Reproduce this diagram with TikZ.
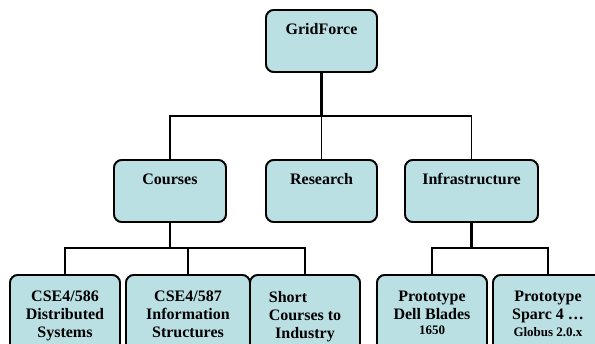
\documentclass[tikz,border=0pt]{standalone}
\usepackage{fontspec}
\setmainfont{Liberation Serif}
\definecolor{boxfill}{RGB}{187,224,228}
\begin{document}
\begin{tikzpicture}[x=1pt, y=-1pt,
  box/.style={draw=black, line width=1.8pt, fill=boxfill, rounded corners=8pt,
    inner sep=0pt, minimum height=62pt},
  lowbox/.style={box, minimum width=110pt, minimum height=80pt},
  lbl/.style={font=\bfseries\fontsize{16}{18}\selectfont, align=center, inner sep=0pt},
  link/.style={line width=1.6pt},
  trunk/.style={line width=2.2pt},
  rootlink/.style={line width=3pt}]
\useasboundingbox (0,0) rectangle (595,344);
\clip (0,0) rectangle (595,344);

% junction points of the tree
\coordinate (j1) at (321.5,116);
\coordinate (j2) at (170,248);
\coordinate (j3) at (471.5,248);

% boxes
\node[box, minimum width=111pt] (grid) at (321.5,41) {};
\node[box, minimum width=112pt] (courses) at (170,191) {};
\node[box, minimum width=111pt] (research) at (321.5,191) {};
\node[box, minimum width=133pt] (infra) at (471.5,191) {};
\node[lowbox] (c586) at (65,315) {};
\node[lowbox, minimum width=124pt] (c587) at (188,315) {};
\node[lowbox] (short) at (305,315) {};
\node[lowbox] (dell) at (432,315) {};
\node[lowbox] (sparc) at (548,315) {};

% connectors
\draw[rootlink] (grid.south) -- (j1);
\draw[link] (courses.north) -- (courses.north |- j1) -- (infra.north |- j1) -- (infra.north);
\draw[link] (research.north) -- (j1);
\draw[trunk] (courses.south) -- (j2);
\draw[link] (c586.north) -- (c586.north |- j2) -- (short.north |- j2) -- (short.north);
\draw[link] (c587.north) -- (c587.north |- j2);
\draw[trunk] (infra.south) -- (j3);
\draw[link] (dell.north) -- (dell.north |- j3) -- (sparc.north |- j3) -- (sparc.north);

% redraw boxes over the connector ends
\node[box, minimum width=111pt] at (grid) {};
\node[box, minimum width=112pt] at (courses) {};
\node[box, minimum width=111pt] at (research) {};
\node[box, minimum width=133pt] at (infra) {};
\node[lowbox] at (c586) {};
\node[lowbox, minimum width=124pt] at (c587) {};
\node[lowbox] at (short) {};
\node[lowbox] at (dell) {};
\node[lowbox] at (sparc) {};

% labels
\node[lbl] (grid-t) at ([yshift=-20pt]grid.north) {GridForce};
\node[lbl] (courses-t) at ([yshift=-20pt]courses.north) {Courses};
\node[lbl] (research-t) at ([yshift=-20pt]research.north) {Research};
\node[lbl] (infra-t) at ([yshift=-20pt]infra.north) {Infrastructure};
\node[lbl, anchor=north] (c586-t) at ([yshift=-17pt]c586.north) {CSE4/586\\Distributed\\Systems};
\node[lbl, anchor=north] (c587-t) at ([yshift=-17pt]c587.north) {CSE4/587\\Information\\Structures};
\node[lbl, anchor=north] (short-t) at ([yshift=-17pt]short.north) {Short\rule{34pt}{0pt}\\Courses to\\Industry};
\node[lbl, anchor=north] (dell-t) at ([yshift=-17pt]dell.north) {Prototype\\Dell Blades\\[-3pt]{\fontsize{13}{15}\selectfont 1650}};
\node[lbl, anchor=north] (sparc-t) at ([yshift=-17pt]sparc.north) {Prototype\\Sparc 4 …\\[-1pt]{\fontsize{13}{15}\selectfont Globus 2.0.x}};
\end{tikzpicture}
\end{document}
